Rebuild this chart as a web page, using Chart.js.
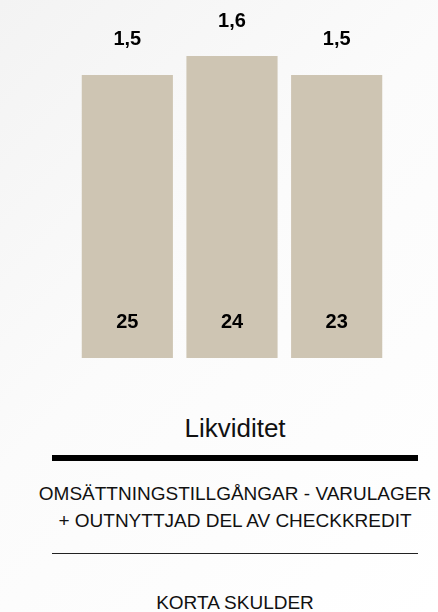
<!DOCTYPE html>
<html lang="sv">

<head>
    <meta charset="UTF-8">
    <title>Likviditet</title>
    <style>
        html,
        body {
            margin: 0;
            padding: 0;
        }

        body {
            width: 438px;
            height: 612px;
            position: relative;
            overflow: hidden;
            font-family: "Liberation Sans", Arial, Helvetica, sans-serif;
            color: #111;
            background: linear-gradient(135deg, #f3f3f3 0%, #fbfbfb 45%, #ffffff 100%);
        }

        #chart-wrap {
            position: absolute;
            left: 0;
            top: 0;
            width: 438px;
            height: 380px;
        }

        .txt {
            position: absolute;
            left: 16px;
            width: 438px;
            text-align: center;
            white-space: nowrap;
        }

        #title {
            top: 413px;
            font-size: 26px;
            line-height: 30px;
        }

        #thick {
            position: absolute;
            left: 52px;
            width: 366px;
            top: 455px;
            height: 6px;
            background: #000;
        }

        #num1 {
            top: 482px;
            font-size: 19px;
            line-height: 24px;
        }

        #num2 {
            top: 509px;
            font-size: 19px;
            line-height: 24px;
        }

        #thin {
            position: absolute;
            left: 52px;
            width: 366px;
            top: 553px;
            height: 1px;
            background: #222;
        }

        #denom {
            top: 591px;
            font-size: 19px;
            line-height: 24px;
        }
    </style>
    <script src="https://cdn.jsdelivr.net/npm/chart.js"></script>
</head>

<body>
    <div id="chart-wrap"><canvas id="chart_div" width="438" height="380"></canvas></div>

    <div class="txt" id="title">Likviditet</div>
    <div id="thick"></div>
    <div class="txt" id="num1">OMSÄTTNINGSTILLGÅNGAR - VARULAGER</div>
    <div class="txt" id="num2">+ OUTNYTTJAD DEL AV CHECKKREDIT</div>
    <div id="thin"></div>
    <div class="txt" id="denom">KORTA SKULDER</div>

    <script>
        // categories and values
        const labels = ['25', '24', '23'];
        const values = [1.5, 1.6, 1.5];
        const valueTexts = ['1,5', '1,6', '1,5'];

        // draws the value above each bar and the category inside the bar bottom
        const barText = {
            id: 'barText',
            afterDatasetsDraw(chart) {
                const ctx = chart.ctx;
                const x = chart.scales.x;
                const y = chart.scales.y;
                ctx.save();
                ctx.fillStyle = '#000';
                ctx.font = 'bold 20px "Liberation Sans", Arial, sans-serif';
                ctx.textAlign = 'center';
                ctx.textBaseline = 'middle';
                labels.forEach((lab, i) => {
                    const cx = x.getPixelForValue(i);
                    ctx.fillText(valueTexts[i], cx, y.getPixelForValue(values[i]) - 35);
                    ctx.fillText(lab, cx, y.getPixelForValue(0) - 36);
                });
                ctx.restore();
            }
        };

        const ctx = document.getElementById('chart_div').getContext('2d');
        new Chart(ctx, {
            type: 'bar',
            data: {
                labels: labels,
                datasets: [{
                    data: values,
                    backgroundColor: '#cec5b3',
                    borderWidth: 0,
                    barPercentage: 1,
                    categoryPercentage: 0.871
                }]
            },
            options: {
                responsive: false,
                animation: false,
                layout: {
                    padding: { left: 75, right: 49, top: 56, bottom: 22 }
                },
                plugins: {
                    legend: { display: false },
                    tooltip: { enabled: false }
                },
                scales: {
                    x: { display: false },
                    y: { display: false, min: 0, max: 1.6 }
                }
            },
            plugins: [barText]
        });
    </script>
</body>

</html>
